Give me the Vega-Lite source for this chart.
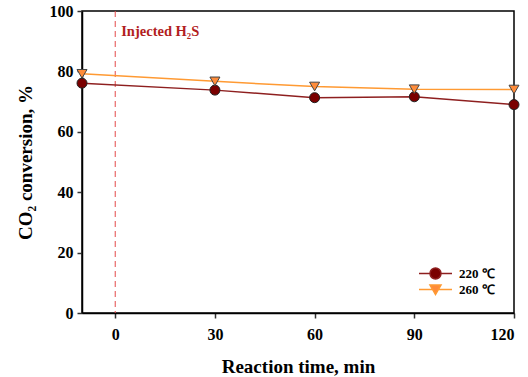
{
  "$schema": "https://vega.github.io/schema/vega-lite/v6.json",
  "width": 432,
  "height": 302,
  "autosize": "none",
  "padding": {"left": 82, "top": 11, "right": 14, "bottom": 64},
  "background": "white",
  "config": {
    "view": {"stroke": "black", "strokeWidth": 1.5},
    "font": "Liberation Serif",
    "axis": {
      "labelFont": "Liberation Serif", "labelFontWeight": "bold", "labelFontSize": 16, "labelColor": "black",
      "titleFont": "Liberation Serif", "titleFontWeight": "bold", "titleFontSize": 19, "titleColor": "black",
      "domainColor": "black", "domainWidth": 1.5, "tickColor": "#333", "tickWidth": 1.5, "tickSize": 5, "grid": false
    }
  },
  "data": {"values": [
    {"time": -10, "conv": 76.1, "series": "220 ℃"},
    {"time": 30, "conv": 73.8, "series": "220 ℃"},
    {"time": 60, "conv": 71.3, "series": "220 ℃"},
    {"time": 90, "conv": 71.6, "series": "220 ℃"},
    {"time": 120, "conv": 69.0, "series": "220 ℃"},
    {"time": -10, "conv": 79.2, "series": "260 ℃"},
    {"time": 30, "conv": 76.7, "series": "260 ℃"},
    {"time": 60, "conv": 75.0, "series": "260 ℃"},
    {"time": 90, "conv": 74.1, "series": "260 ℃"},
    {"time": 120, "conv": 74.0, "series": "260 ℃"}
  ]},
  "layer": [
    {
      "data": {"values": [{"t": 0}]},
      "mark": {"type": "rule", "color": "#E34A4A", "strokeDash": [6, 4], "strokeWidth": 1},
      "encoding": {"x": {"field": "t", "type": "quantitative"}}
    },
    {
      "data": {"values": [{"t": 0, "v": 93, "label": "Injected H₂S"}]},
      "mark": {"type": "text", "align": "left", "baseline": "middle", "dx": 6, "font": "Liberation Serif", "fontWeight": "bold", "fontSize": 14.5, "color": "#B21E1E"},
      "encoding": {
        "x": {"field": "t", "type": "quantitative"},
        "y": {"field": "v", "type": "quantitative"},
        "text": {"field": "label"}
      }
    },
    {
      "transform": [{"filter": "datum.series === '260 ℃'"}],
      "mark": {"type": "line", "strokeWidth": 1.5, "color": "#FF9A33"},
      "encoding": {
        "x": {"field": "time", "type": "quantitative", "scale": {"domain": [-10, 120], "nice": false, "zero": false},
              "axis": {"values": [0, 30, 60, 90, 120], "title": "Reaction time, min", "titlePadding": 15, "labelPadding": 8}},
        "y": {"field": "conv", "type": "quantitative", "scale": {"domain": [0, 100]},
              "axis": {"values": [0, 20, 40, 60, 80, 100], "title": "CO₂ conversion, %", "titlePadding": 14, "labelPadding": 4}}
      }
    },
    {
      "transform": [{"filter": "datum.series === '220 ℃'"}],
      "mark": {"type": "line", "strokeWidth": 1.5, "color": "#8E1F1F"},
      "encoding": {
        "x": {"field": "time", "type": "quantitative"},
        "y": {"field": "conv", "type": "quantitative"}
      }
    },
    {
      "transform": [{"filter": "datum.series === '220 ℃'"}],
      "mark": {"type": "point", "shape": "circle", "filled": true, "opacity": 1, "size": 100, "strokeWidth": 1, "fill": "#7A0000", "stroke": "#222"},
      "encoding": {
        "x": {"field": "time", "type": "quantitative"},
        "y": {"field": "conv", "type": "quantitative"}
      }
    },
    {
      "transform": [{"filter": "datum.series === '260 ℃'"}],
      "mark": {"type": "point", "shape": "triangle-down", "filled": true, "opacity": 1, "size": 100, "strokeWidth": 1, "fill": "#FF8C3A", "stroke": "#444"},
      "encoding": {
        "x": {"field": "time", "type": "quantitative"},
        "y": {"field": "conv", "type": "quantitative"}
      }
    },
    {
      "mark": {"type": "point", "filled": true, "fillOpacity": 0, "strokeOpacity": 0, "strokeWidth": 1.5},
      "encoding": {
        "x": {"field": "time", "type": "quantitative"},
        "y": {"field": "conv", "type": "quantitative"},
        "shape": {"field": "series", "type": "nominal", "scale": {"domain": ["220 ℃", "260 ℃"], "range": [
            "M-3,0H-1M1,0H3M-1,0C-1,-0.5523,-0.5523,-1,0,-1C0.5523,-1,1,-0.5523,1,0C1,0.5523,0.5523,1,0,1C-0.5523,1,-1,0.5523,-1,0Z",
            "M-3,0H-0.53M0.53,0H3M-1,-0.8L1,-0.8L0,0.9Z"
          ]},
          "legend": {
            "title": null, "orient": "none", "legendX": 347, "legendY": 256,
            "symbolSize": 121, "symbolOpacity": 1, "symbolStrokeWidth": 1.5,
            "labelFont": "Liberation Serif", "labelFontWeight": "bold", "labelFontSize": 13, "labelColor": "black",
            "labelOffset": 17, "rowPadding": 0, "padding": 0,
            "encode": {"symbols": {"update": {"opacity": {"value": 1}, "fillOpacity": {"value": 1}, "strokeOpacity": {"value": 1}}}}
          }},
        "fill": {"field": "series", "type": "nominal", "scale": {"domain": ["220 ℃", "260 ℃"], "range": ["#7A0000", "#FF8C3A"]}},
        "stroke": {"field": "series", "type": "nominal", "scale": {"domain": ["220 ℃", "260 ℃"], "range": ["#8E1F1F", "#FF9A33"]}}
      }
    }
  ]
}
